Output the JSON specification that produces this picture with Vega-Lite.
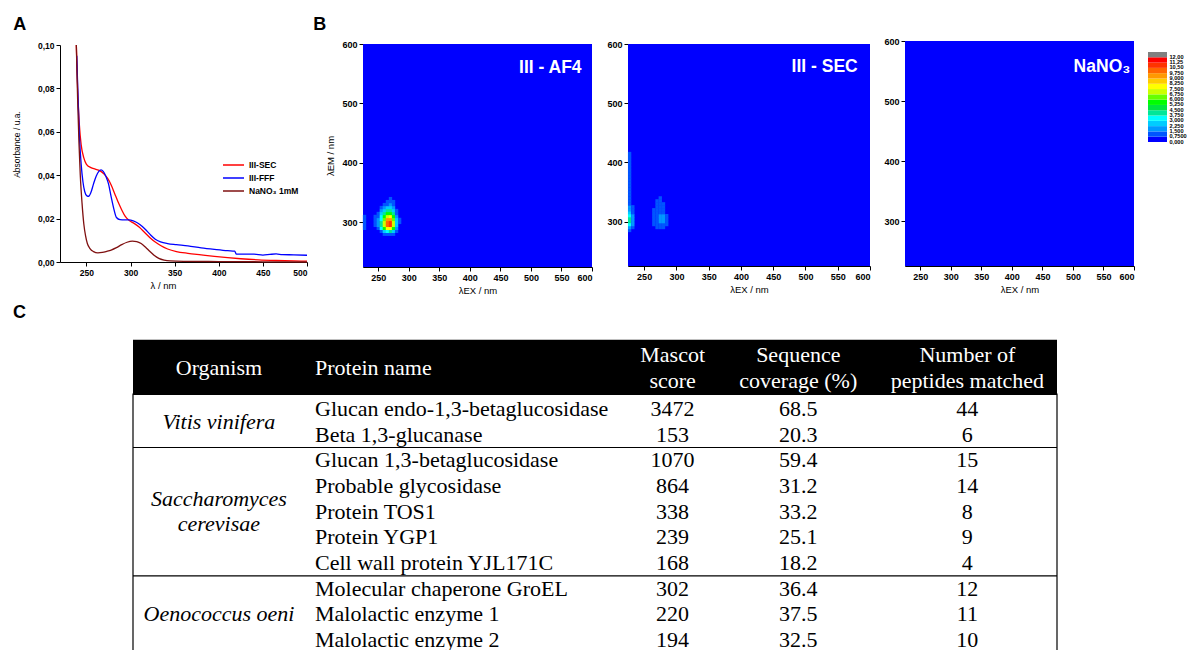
{
 "$schema": "https://vega.github.io/schema/vega-lite/v6.json",
 "width": 1188, "height": 650,
 "autosize": {"type": "none"},
 "padding": 0,
 "background": "white",
 "config": {
  "view": {"stroke": null},
  "font": "Liberation Sans",
  "axis": {"grid": false, "domainColor": "black", "domainWidth": 1, "tickColor": "black", "tickSize": 4, "tickWidth": 1,
   "labelColor": "black", "labelFontWeight": "bold", "labelFontSize": 9, "labelPadding": 2,
   "titleColor": "black", "titleFontWeight": "normal", "titleFontSize": 9.5, "labelFont": "Liberation Sans", "titleFont": "Liberation Sans"}
 },
 "resolve": {"scale": {"x": "independent", "y": "independent", "color": "independent"}, "axis": {"x": "independent", "y": "independent"}, "legend": {"color": "independent"}},
 "datasets": {
  "uv": [
   {"sample":"III-SEC","nm":238.5,"absorbance":0.100},{"sample":"III-SEC","nm":240,"absorbance":0.080},{"sample":"III-SEC","nm":242,"absorbance":0.063},{"sample":"III-SEC","nm":244,"absorbance":0.054},{"sample":"III-SEC","nm":247,"absorbance":0.048},{"sample":"III-SEC","nm":250,"absorbance":0.045},{"sample":"III-SEC","nm":255,"absorbance":0.0435},{"sample":"III-SEC","nm":260,"absorbance":0.0428},{"sample":"III-SEC","nm":265,"absorbance":0.0421},{"sample":"III-SEC","nm":270,"absorbance":0.0405},{"sample":"III-SEC","nm":274,"absorbance":0.0385},{"sample":"III-SEC","nm":278,"absorbance":0.0355},{"sample":"III-SEC","nm":282,"absorbance":0.0315},{"sample":"III-SEC","nm":286,"absorbance":0.0275},{"sample":"III-SEC","nm":290,"absorbance":0.024},{"sample":"III-SEC","nm":294,"absorbance":0.021},{"sample":"III-SEC","nm":299,"absorbance":0.019},{"sample":"III-SEC","nm":304,"absorbance":0.0178},{"sample":"III-SEC","nm":310,"absorbance":0.016},{"sample":"III-SEC","nm":316,"absorbance":0.0136},{"sample":"III-SEC","nm":322,"absorbance":0.0112},{"sample":"III-SEC","nm":328,"absorbance":0.0092},{"sample":"III-SEC","nm":334,"absorbance":0.0076},{"sample":"III-SEC","nm":342,"absorbance":0.006},{"sample":"III-SEC","nm":352,"absorbance":0.0048},{"sample":"III-SEC","nm":365,"absorbance":0.004},{"sample":"III-SEC","nm":380,"absorbance":0.0033},{"sample":"III-SEC","nm":395,"absorbance":0.0026},{"sample":"III-SEC","nm":410,"absorbance":0.002},{"sample":"III-SEC","nm":425,"absorbance":0.0015},{"sample":"III-SEC","nm":445,"absorbance":0.001},{"sample":"III-SEC","nm":465,"absorbance":0.0007},{"sample":"III-SEC","nm":485,"absorbance":0.0005},{"sample":"III-SEC","nm":500,"absorbance":0.0004},
   {"sample":"III-FFF","nm":239,"absorbance":0.095},{"sample":"III-FFF","nm":240.5,"absorbance":0.075},{"sample":"III-FFF","nm":242,"absorbance":0.058},{"sample":"III-FFF","nm":244,"absorbance":0.045},{"sample":"III-FFF","nm":246,"absorbance":0.037},{"sample":"III-FFF","nm":248,"absorbance":0.0325},{"sample":"III-FFF","nm":250.5,"absorbance":0.0305},{"sample":"III-FFF","nm":252.5,"absorbance":0.0303},{"sample":"III-FFF","nm":255,"absorbance":0.032},{"sample":"III-FFF","nm":258,"absorbance":0.036},{"sample":"III-FFF","nm":261,"absorbance":0.0395},{"sample":"III-FFF","nm":264,"absorbance":0.0418},{"sample":"III-FFF","nm":266.5,"absorbance":0.0425},{"sample":"III-FFF","nm":269,"absorbance":0.0418},{"sample":"III-FFF","nm":272,"absorbance":0.0395},{"sample":"III-FFF","nm":275,"absorbance":0.036},{"sample":"III-FFF","nm":278,"absorbance":0.030},{"sample":"III-FFF","nm":281,"absorbance":0.0245},{"sample":"III-FFF","nm":284,"absorbance":0.0205},{"sample":"III-FFF","nm":288,"absorbance":0.0195},{"sample":"III-FFF","nm":293,"absorbance":0.0194},{"sample":"III-FFF","nm":298,"absorbance":0.0194},{"sample":"III-FFF","nm":303,"absorbance":0.019},{"sample":"III-FFF","nm":308,"absorbance":0.018},{"sample":"III-FFF","nm":313,"absorbance":0.0165},{"sample":"III-FFF","nm":318,"absorbance":0.0145},{"sample":"III-FFF","nm":323,"absorbance":0.0123},{"sample":"III-FFF","nm":328,"absorbance":0.0105},{"sample":"III-FFF","nm":334,"absorbance":0.0093},{"sample":"III-FFF","nm":342,"absorbance":0.0085},{"sample":"III-FFF","nm":352,"absorbance":0.008},{"sample":"III-FFF","nm":365,"absorbance":0.0074},{"sample":"III-FFF","nm":380,"absorbance":0.0065},{"sample":"III-FFF","nm":395,"absorbance":0.0058},{"sample":"III-FFF","nm":410,"absorbance":0.0052},{"sample":"III-FFF","nm":418,"absorbance":0.005},{"sample":"III-FFF","nm":420,"absorbance":0.0036},{"sample":"III-FFF","nm":430,"absorbance":0.0036},{"sample":"III-FFF","nm":440,"absorbance":0.0036},{"sample":"III-FFF","nm":450,"absorbance":0.0032},{"sample":"III-FFF","nm":458,"absorbance":0.0035},{"sample":"III-FFF","nm":465,"absorbance":0.0037},{"sample":"III-FFF","nm":472,"absorbance":0.0034},{"sample":"III-FFF","nm":485,"absorbance":0.0033},{"sample":"III-FFF","nm":500,"absorbance":0.0031},
   {"sample":"NaNO₃ 1mM","nm":238.5,"absorbance":0.100},{"sample":"NaNO₃ 1mM","nm":240,"absorbance":0.075},{"sample":"NaNO₃ 1mM","nm":241.5,"absorbance":0.055},{"sample":"NaNO₃ 1mM","nm":243,"absorbance":0.040},{"sample":"NaNO₃ 1mM","nm":245,"absorbance":0.027},{"sample":"NaNO₃ 1mM","nm":247,"absorbance":0.0175},{"sample":"NaNO₃ 1mM","nm":249,"absorbance":0.012},{"sample":"NaNO₃ 1mM","nm":251,"absorbance":0.0085},{"sample":"NaNO₃ 1mM","nm":254,"absorbance":0.0062},{"sample":"NaNO₃ 1mM","nm":258,"absorbance":0.0048},{"sample":"NaNO₃ 1mM","nm":263,"absorbance":0.0042},{"sample":"NaNO₃ 1mM","nm":268,"absorbance":0.0044},{"sample":"NaNO₃ 1mM","nm":273,"absorbance":0.0049},{"sample":"NaNO₃ 1mM","nm":278,"absorbance":0.0055},{"sample":"NaNO₃ 1mM","nm":284,"absorbance":0.0066},{"sample":"NaNO₃ 1mM","nm":290,"absorbance":0.008},{"sample":"NaNO₃ 1mM","nm":296,"absorbance":0.0091},{"sample":"NaNO₃ 1mM","nm":302,"absorbance":0.0096},{"sample":"NaNO₃ 1mM","nm":307,"absorbance":0.0094},{"sample":"NaNO₃ 1mM","nm":312,"absorbance":0.0085},{"sample":"NaNO₃ 1mM","nm":317,"absorbance":0.0068},{"sample":"NaNO₃ 1mM","nm":322,"absorbance":0.0048},{"sample":"NaNO₃ 1mM","nm":327,"absorbance":0.003},{"sample":"NaNO₃ 1mM","nm":332,"absorbance":0.0017},{"sample":"NaNO₃ 1mM","nm":338,"absorbance":0.0009},{"sample":"NaNO₃ 1mM","nm":345,"absorbance":0.0005},{"sample":"NaNO₃ 1mM","nm":360,"absorbance":0.0003},{"sample":"NaNO₃ 1mM","nm":400,"absorbance":0.0002},{"sample":"NaNO₃ 1mM","nm":450,"absorbance":0.0001},{"sample":"NaNO₃ 1mM","nm":500,"absorbance":0.0}
  ],
  "eem": [
   {"sample":"AF4","ex":260,"em":280,"intensity":0.78},{"sample":"AF4","ex":265,"em":280,"intensity":1.07},{"sample":"AF4","ex":270,"em":280,"intensity":1.15},{"sample":"AF4","ex":275,"em":280,"intensity":0.76},
   {"sample":"AF4","ex":255,"em":285,"intensity":1.45},{"sample":"AF4","ex":260,"em":285,"intensity":2.57},{"sample":"AF4","ex":265,"em":285,"intensity":3.56},{"sample":"AF4","ex":270,"em":285,"intensity":3.81},{"sample":"AF4","ex":275,"em":285,"intensity":2.52},{"sample":"AF4","ex":280,"em":285,"intensity":0.92},
   {"sample":"AF4","ex":250,"em":290,"intensity":1.35},{"sample":"AF4","ex":255,"em":290,"intensity":3.08},{"sample":"AF4","ex":260,"em":290,"intensity":5.47},{"sample":"AF4","ex":265,"em":290,"intensity":7.57},{"sample":"AF4","ex":270,"em":290,"intensity":8.11},{"sample":"AF4","ex":275,"em":290,"intensity":5.36},{"sample":"AF4","ex":280,"em":290,"intensity":1.96},
   {"sample":"AF4","ex":245,"em":295,"intensity":0.85},{"sample":"AF4","ex":250,"em":295,"intensity":1.84},{"sample":"AF4","ex":255,"em":295,"intensity":4.2},{"sample":"AF4","ex":260,"em":295,"intensity":7.47},{"sample":"AF4","ex":265,"em":295,"intensity":10.34},{"sample":"AF4","ex":270,"em":295,"intensity":11.07},{"sample":"AF4","ex":275,"em":295,"intensity":7.31},{"sample":"AF4","ex":280,"em":295,"intensity":2.68},
   {"sample":"AF4","ex":245,"em":300,"intensity":0.85},{"sample":"AF4","ex":250,"em":300,"intensity":1.81},{"sample":"AF4","ex":255,"em":300,"intensity":4.13},{"sample":"AF4","ex":260,"em":300,"intensity":7.33},{"sample":"AF4","ex":265,"em":300,"intensity":10.15},{"sample":"AF4","ex":270,"em":300,"intensity":10.86},{"sample":"AF4","ex":275,"em":300,"intensity":7.18},{"sample":"AF4","ex":280,"em":300,"intensity":2.63},{"sample":"AF4","ex":285,"em":300,"intensity":0.8},
   {"sample":"AF4","ex":245,"em":305,"intensity":0.8},{"sample":"AF4","ex":250,"em":305,"intensity":1.62},{"sample":"AF4","ex":255,"em":305,"intensity":3.69},{"sample":"AF4","ex":260,"em":305,"intensity":6.55},{"sample":"AF4","ex":265,"em":305,"intensity":9.07},{"sample":"AF4","ex":270,"em":305,"intensity":9.71},{"sample":"AF4","ex":275,"em":305,"intensity":6.42},{"sample":"AF4","ex":280,"em":305,"intensity":2.35},{"sample":"AF4","ex":285,"em":305,"intensity":0.78},
   {"sample":"AF4","ex":245,"em":310,"intensity":0.78},{"sample":"AF4","ex":250,"em":310,"intensity":1.32},{"sample":"AF4","ex":255,"em":310,"intensity":3.02},{"sample":"AF4","ex":260,"em":310,"intensity":5.37},{"sample":"AF4","ex":265,"em":310,"intensity":7.43},{"sample":"AF4","ex":270,"em":310,"intensity":7.96},{"sample":"AF4","ex":275,"em":310,"intensity":5.26},{"sample":"AF4","ex":280,"em":310,"intensity":1.93},
   {"sample":"AF4","ex":250,"em":315,"intensity":0.99},{"sample":"AF4","ex":255,"em":315,"intensity":2.27},{"sample":"AF4","ex":260,"em":315,"intensity":4.03},{"sample":"AF4","ex":265,"em":315,"intensity":5.58},{"sample":"AF4","ex":270,"em":315,"intensity":5.98},{"sample":"AF4","ex":275,"em":315,"intensity":3.95},{"sample":"AF4","ex":280,"em":315,"intensity":1.45},
   {"sample":"AF4","ex":255,"em":320,"intensity":1.57},{"sample":"AF4","ex":260,"em":320,"intensity":2.79},{"sample":"AF4","ex":265,"em":320,"intensity":3.85},{"sample":"AF4","ex":270,"em":320,"intensity":4.12},{"sample":"AF4","ex":275,"em":320,"intensity":2.73},{"sample":"AF4","ex":280,"em":320,"intensity":1.0},
   {"sample":"AF4","ex":255,"em":325,"intensity":0.99},{"sample":"AF4","ex":260,"em":325,"intensity":1.76},{"sample":"AF4","ex":265,"em":325,"intensity":2.44},{"sample":"AF4","ex":270,"em":325,"intensity":2.61},{"sample":"AF4","ex":275,"em":325,"intensity":1.72},
   {"sample":"AF4","ex":260,"em":330,"intensity":1.02},{"sample":"AF4","ex":265,"em":330,"intensity":1.41},{"sample":"AF4","ex":270,"em":330,"intensity":1.51},{"sample":"AF4","ex":275,"em":330,"intensity":1.0},
   {"sample":"AF4","ex":265,"em":335,"intensity":0.76},{"sample":"AF4","ex":270,"em":335,"intensity":0.8},{"sample":"AF4","ex":275,"em":335,"intensity":0.78},{"sample":"AF4","ex":270,"em":340,"intensity":0.78},
   {"sample":"AF4","ex":227.5,"em":290,"intensity":0.9},{"sample":"AF4","ex":227.5,"em":295,"intensity":1.0},{"sample":"AF4","ex":227.5,"em":300,"intensity":1.0},{"sample":"AF4","ex":227.5,"em":305,"intensity":1.0},{"sample":"AF4","ex":227.5,"em":310,"intensity":0.9},
   {"sample":"SEC","ex":270,"em":290,"intensity":1.0},{"sample":"SEC","ex":275,"em":290,"intensity":1.0},{"sample":"SEC","ex":280,"em":290,"intensity":1.0},
   {"sample":"SEC","ex":265,"em":295,"intensity":1.0},{"sample":"SEC","ex":270,"em":295,"intensity":1.1},{"sample":"SEC","ex":275,"em":295,"intensity":1.3},{"sample":"SEC","ex":280,"em":295,"intensity":1.2},{"sample":"SEC","ex":285,"em":295,"intensity":0.9},
   {"sample":"SEC","ex":265,"em":300,"intensity":1.0},{"sample":"SEC","ex":270,"em":300,"intensity":1.2},{"sample":"SEC","ex":275,"em":300,"intensity":1.8},{"sample":"SEC","ex":280,"em":300,"intensity":1.8},{"sample":"SEC","ex":285,"em":300,"intensity":1.0},
   {"sample":"SEC","ex":265,"em":305,"intensity":1.0},{"sample":"SEC","ex":270,"em":305,"intensity":1.3},{"sample":"SEC","ex":275,"em":305,"intensity":1.9},{"sample":"SEC","ex":280,"em":305,"intensity":1.8},{"sample":"SEC","ex":285,"em":305,"intensity":0.9},
   {"sample":"SEC","ex":265,"em":310,"intensity":1.0},{"sample":"SEC","ex":270,"em":310,"intensity":1.2},{"sample":"SEC","ex":275,"em":310,"intensity":1.7},{"sample":"SEC","ex":280,"em":310,"intensity":1.6},{"sample":"SEC","ex":285,"em":310,"intensity":0.8},
   {"sample":"SEC","ex":265,"em":315,"intensity":0.9},{"sample":"SEC","ex":270,"em":315,"intensity":1.1},{"sample":"SEC","ex":275,"em":315,"intensity":1.2},{"sample":"SEC","ex":280,"em":315,"intensity":1.0},
   {"sample":"SEC","ex":265,"em":320,"intensity":0.8},{"sample":"SEC","ex":270,"em":320,"intensity":1.0},{"sample":"SEC","ex":275,"em":320,"intensity":1.1},{"sample":"SEC","ex":280,"em":320,"intensity":0.9},
   {"sample":"SEC","ex":270,"em":325,"intensity":1.0},{"sample":"SEC","ex":275,"em":325,"intensity":1.0},{"sample":"SEC","ex":280,"em":325,"intensity":0.8},
   {"sample":"SEC","ex":270,"em":330,"intensity":0.9},{"sample":"SEC","ex":275,"em":330,"intensity":1.0},{"sample":"SEC","ex":280,"em":330,"intensity":0.8},
   {"sample":"SEC","ex":270,"em":335,"intensity":0.8},{"sample":"SEC","ex":275,"em":335,"intensity":0.9},{"sample":"SEC","ex":275,"em":340,"intensity":0.8},
   {"sample":"SEC","ex":227.5,"em":285,"intensity":0.9},{"sample":"SEC","ex":227.5,"em":290,"intensity":1.8},{"sample":"SEC","ex":227.5,"em":295,"intensity":3.2},{"sample":"SEC","ex":227.5,"em":300,"intensity":4.0},{"sample":"SEC","ex":227.5,"em":305,"intensity":4.2},{"sample":"SEC","ex":227.5,"em":310,"intensity":3.6},{"sample":"SEC","ex":227.5,"em":315,"intensity":2.6},{"sample":"SEC","ex":227.5,"em":320,"intensity":2.0},{"sample":"SEC","ex":227.5,"em":325,"intensity":1.6},{"sample":"SEC","ex":227.5,"em":330,"intensity":1.4},{"sample":"SEC","ex":227.5,"em":335,"intensity":1.2},{"sample":"SEC","ex":227.5,"em":340,"intensity":1.1},{"sample":"SEC","ex":227.5,"em":345,"intensity":1.0},{"sample":"SEC","ex":227.5,"em":350,"intensity":1.0},{"sample":"SEC","ex":227.5,"em":355,"intensity":1.0},{"sample":"SEC","ex":227.5,"em":360,"intensity":0.9},{"sample":"SEC","ex":227.5,"em":365,"intensity":0.8},{"sample":"SEC","ex":227.5,"em":370,"intensity":0.8},{"sample":"SEC","ex":227.5,"em":375,"intensity":0.8},{"sample":"SEC","ex":227.5,"em":380,"intensity":0.8},{"sample":"SEC","ex":227.5,"em":385,"intensity":0.8},{"sample":"SEC","ex":227.5,"em":390,"intensity":0.8},{"sample":"SEC","ex":227.5,"em":395,"intensity":0.8},{"sample":"SEC","ex":227.5,"em":400,"intensity":0.8},{"sample":"SEC","ex":227.5,"em":405,"intensity":0.8},{"sample":"SEC","ex":227.5,"em":410,"intensity":0.8},{"sample":"SEC","ex":227.5,"em":415,"intensity":0.8},
   {"sample":"SEC","ex":232.5,"em":290,"intensity":1.0},{"sample":"SEC","ex":232.5,"em":295,"intensity":1.6},{"sample":"SEC","ex":232.5,"em":300,"intensity":2.0},{"sample":"SEC","ex":232.5,"em":305,"intensity":2.0},{"sample":"SEC","ex":232.5,"em":310,"intensity":1.7},{"sample":"SEC","ex":232.5,"em":315,"intensity":1.3},{"sample":"SEC","ex":232.5,"em":320,"intensity":1.0},{"sample":"SEC","ex":232.5,"em":325,"intensity":0.8}
  ],
  "levels": [{"lo":0,"hi":0.75},{"lo":0.75,"hi":1.5},{"lo":1.5,"hi":2.25},{"lo":2.25,"hi":3},{"lo":3,"hi":3.75},{"lo":3.75,"hi":4.5},{"lo":4.5,"hi":5.25},{"lo":5.25,"hi":6},{"lo":6,"hi":6.75},{"lo":6.75,"hi":7.5},{"lo":7.5,"hi":8.25},{"lo":8.25,"hi":9},{"lo":9,"hi":9.75},{"lo":9.75,"hi":10.5},{"lo":10.5,"hi":11.25},{"lo":11.25,"hi":12},{"lo":12,"hi":12.75}],
  "table": [
   {"row":0,"organism":"Vitis vinifera","protein":"Glucan endo-1,3-betaglucosidase","mascot":3472,"coverage":68.5,"peptides":44},
   {"row":1,"organism":"Vitis vinifera","protein":"Beta 1,3-glucanase","mascot":153,"coverage":20.3,"peptides":6},
   {"row":2,"organism":"Saccharomyces\ncerevisae","protein":"Glucan 1,3-betaglucosidase","mascot":1070,"coverage":59.4,"peptides":15},
   {"row":3,"organism":"Saccharomyces\ncerevisae","protein":"Probable glycosidase","mascot":864,"coverage":31.2,"peptides":14},
   {"row":4,"organism":"Saccharomyces\ncerevisae","protein":"Protein TOS1","mascot":338,"coverage":33.2,"peptides":8},
   {"row":5,"organism":"Saccharomyces\ncerevisae","protein":"Protein YGP1","mascot":239,"coverage":25.1,"peptides":9},
   {"row":6,"organism":"Saccharomyces\ncerevisae","protein":"Cell wall protein YJL171C","mascot":168,"coverage":18.2,"peptides":4},
   {"row":7,"organism":"Oenococcus oeni","protein":"Molecular chaperone GroEL","mascot":302,"coverage":36.4,"peptides":12},
   {"row":8,"organism":"Oenococcus oeni","protein":"Malolactic enzyme 1","mascot":220,"coverage":37.5,"peptides":11},
   {"row":9,"organism":"Oenococcus oeni","protein":"Malolactic enzyme 2","mascot":194,"coverage":32.5,"peptides":10}
  ],
  "header": [
   {"column":"Organism","label":"Organism"},
   {"column":"Protein name","label":"Protein name"},
   {"column":"Mascot score","label":"Mascot\nscore"},
   {"column":"Sequence coverage (%)","label":"Sequence\ncoverage (%)"},
   {"column":"Number of peptides matched","label":"Number of\npeptides matched"}
  ]
 },
 "layer": [
  {
   "layer": [
    {"data": {"name": "uv"}, "mark": {"type": "line", "strokeWidth": 1.3, "interpolate": "monotone"},
     "encoding": {
      "x": {"field": "nm", "type": "quantitative", "scale": {"domain": [220, 500], "range": [60, 307], "nice": false, "zero": false},
       "axis": {"orient": "bottom", "offset": -388, "values": [250, 300, 350, 400, 450, 500], "title": "λ / nm", "titlePadding": 4, "titleX": 163, "labelFontSize": 8.5}},
      "y": {"field": "absorbance", "type": "quantitative", "scale": {"domain": [0, 0.1], "range": [262, 45], "nice": false, "zero": false},
       "axis": {"orient": "left", "offset": -60, "values": [0, 0.02, 0.04, 0.06, 0.08, 0.1], "labelExpr": "replace(format(datum.value, '.2f'), '.', ',')", "title": "Absorbance / u.a.", "titlePadding": 16, "titleY": 144, "titleFontSize": 8.5, "labelFontSize": 8.5}},
      "color": {"field": "sample", "type": "nominal",
       "scale": {"domain": ["III-SEC", "III-FFF", "NaNO₃ 1mM"], "range": ["#ff0000", "#0000ff", "#7f1010"]},
       "legend": {"orient": "none", "legendX": 225.5, "legendY": 157, "title": null, "symbolType": "M-1.5,0H1.5", "symbolSize": 196, "symbolStrokeWidth": 1.5, "labelFontSize": 8.5, "labelFontWeight": "bold", "labelOffset": 7.5, "rowPadding": 0, "padding": 0, "labelColor": "black"}}
     }},
    {"data": {"values": [{}]}, "mark": {"type": "text", "text": "A", "align": "left", "baseline": "alphabetic", "fontSize": 18, "fontWeight": "bold", "color": "black"},
     "encoding": {"x": {"datum": 167, "type": "quantitative"}, "y": {"datum": 0.1069, "type": "quantitative"}}}
   ]
  },
  {
   "layer": [
    {"data": {"values": [{}]}, "mark": {"type": "rect", "color": "#0000ff"},
     "encoding": {
      "x": {"datum": 225, "type": "quantitative", "scale": {"domain": [225, 600], "range": [363, 592], "nice": false, "zero": false},
       "axis": {"orient": "bottom", "offset": -383, "values": [250, 300, 350, 400, 450, 500, 550, 600], "title": "λEX / nm", "titlePadding": 3}},
      "x2": {"datum": 600},
      "y": {"datum": 225, "type": "quantitative", "scale": {"domain": [225, 600], "range": [267, 44], "nice": false, "zero": false},
       "axis": {"orient": "left", "offset": -363, "values": [300, 400, 500, 600], "title": "λEM / nm", "titlePadding": 6}},
      "y2": {"datum": 600}
     }},
    {"data": {"name": "eem"}, "transform": [{"filter": "datum.sample === 'AF4'"}], "mark": {"type": "square", "size": 11, "opacity": 1, "filled": true},
     "encoding": {"x": {"field": "ex", "type": "quantitative"}, "y": {"field": "em", "type": "quantitative"},
      "color": {"field": "intensity", "type": "quantitative", "legend": null,
       "scale": {"type": "threshold", "domain": [0.75,1.5,2.25,3,3.75,4.5,5.25,6,6.75,7.5,8.25,9,9.75,10.5,11.25,12], "range": ["#0000ff","#0055ff","#0099ff","#00ccff","#00ffff","#00e699","#00e640","#00ff00","#66ff00","#ccff00","#ffff00","#ffcc00","#ff9900","#ff6600","#ff3300","#ff0000","#808080"]}}}},
    {"data": {"values": [{}]}, "mark": {"type": "text", "text": "III - AF4", "align": "right", "baseline": "alphabetic", "color": "white", "fontSize": 17.5, "fontWeight": "bold"},
     "encoding": {"x": {"datum": 583, "type": "quantitative"}, "y": {"datum": 552, "type": "quantitative"}}},
    {"data": {"values": [{}]}, "mark": {"type": "text", "text": "B", "align": "left", "baseline": "alphabetic", "fontSize": 18, "fontWeight": "bold", "color": "black"},
     "encoding": {"x": {"datum": 143.6, "type": "quantitative"}, "y": {"datum": 624, "type": "quantitative"}}}
   ]
  },
  {
   "layer": [
    {"data": {"values": [{}]}, "mark": {"type": "rect", "color": "#0000ff"},
     "encoding": {
      "x": {"datum": 225, "type": "quantitative", "scale": {"domain": [225, 600], "range": [628, 870], "nice": false, "zero": false},
       "axis": {"orient": "bottom", "offset": -384, "values": [250, 300, 350, 400, 450, 500, 550, 600], "title": "λEX / nm", "titlePadding": 3}},
      "x2": {"datum": 600},
      "y": {"datum": 225, "type": "quantitative", "scale": {"domain": [225, 600], "range": [266, 44], "nice": false, "zero": false},
       "axis": {"orient": "left", "offset": -628, "values": [300, 400, 500, 600], "title": null}},
      "y2": {"datum": 600}
     }},
    {"data": {"name": "eem"}, "transform": [{"filter": "datum.sample === 'SEC'"}], "mark": {"type": "square", "size": 11, "opacity": 1, "filled": true},
     "encoding": {"x": {"field": "ex", "type": "quantitative"}, "y": {"field": "em", "type": "quantitative"},
      "color": {"field": "intensity", "type": "quantitative", "legend": null,
       "scale": {"type": "threshold", "domain": [0.75,1.5,2.25,3,3.75,4.5,5.25,6,6.75,7.5,8.25,9,9.75,10.5,11.25,12], "range": ["#0000ff","#0055ff","#0099ff","#00ccff","#00ffff","#00e699","#00e640","#00ff00","#66ff00","#ccff00","#ffff00","#ffcc00","#ff9900","#ff6600","#ff3300","#ff0000","#808080"]}}}},
    {"data": {"values": [{}]}, "mark": {"type": "text", "text": "III - SEC", "align": "right", "baseline": "alphabetic", "color": "white", "fontSize": 17.5, "fontWeight": "bold"},
     "encoding": {"x": {"datum": 581, "type": "quantitative"}, "y": {"datum": 553, "type": "quantitative"}}}
   ]
  },
  {
   "layer": [
    {"data": {"values": [{}]}, "mark": {"type": "rect", "color": "#0000ff"},
     "encoding": {
      "x": {"datum": 225, "type": "quantitative", "scale": {"domain": [225, 600], "range": [905, 1134], "nice": false, "zero": false},
       "axis": {"orient": "bottom", "offset": -384, "values": [250, 300, 350, 400, 450, 500, 550, 600], "title": "λEX / nm", "titlePadding": 3}},
      "x2": {"datum": 600},
      "y": {"datum": 225, "type": "quantitative", "scale": {"domain": [225, 600], "range": [266, 41], "nice": false, "zero": false},
       "axis": {"orient": "left", "offset": -905, "values": [300, 400, 500, 600], "title": null}},
      "y2": {"datum": 600}
     }},
    {"data": {"values": [{}]}, "mark": {"type": "text", "text": "NaNO₃", "align": "right", "baseline": "alphabetic", "color": "white", "fontSize": 17.5, "fontWeight": "bold"},
     "encoding": {"x": {"datum": 594, "type": "quantitative"}, "y": {"datum": 549, "type": "quantitative"}}}
   ]
  },
  {
   "data": {"name": "levels"},
   "layer": [
    {"mark": {"type": "rect"},
     "encoding": {
      "x": {"datum": 0, "type": "quantitative", "scale": {"domain": [0, 1], "range": [1148, 1167], "nice": false, "zero": false}, "axis": null},
      "x2": {"datum": 1},
      "y": {"field": "lo", "type": "quantitative", "scale": {"domain": [0, 12.75], "range": [142, 52], "nice": false, "zero": false},
       "axis": {"orient": "right", "offset": -21, "values": [0,0.75,1.5,2.25,3,3.75,4.5,5.25,6,6.75,7.5,8.25,9,9.75,10.5,11.25,12], "labelExpr": "datum.value == 0 ? '0,000' : replace(format(datum.value, '.4r'), '.', ',')", "ticks": false, "domain": false, "labelFontSize": 5.6, "labelPadding": 2, "title": null, "labelOverlap": false, "labelBound": false, "labelFlush": false, "labelOffset": -1}},
      "y2": {"field": "hi"},
      "color": {"field": "lo", "type": "quantitative", "legend": null,
       "scale": {"type": "threshold", "domain": [0.75,1.5,2.25,3,3.75,4.5,5.25,6,6.75,7.5,8.25,9,9.75,10.5,11.25,12], "range": ["#0000ff","#0055ff","#0099ff","#00ccff","#00ffff","#00e699","#00e640","#00ff00","#66ff00","#ccff00","#ffff00","#ffcc00","#ff9900","#ff6600","#ff3300","#ff0000","#808080"]}}
     }}
   ]
  },
  {
   "layer": [
    {"data": {"values": [{}]}, "mark": {"type": "rect", "color": "black"},
     "encoding": {
      "x": {"datum": 0, "type": "quantitative", "scale": {"domain": [0, 100], "range": [133, 1057], "nice": false, "zero": false}, "axis": null},
      "x2": {"datum": 100},
      "y": {"datum": -2.7, "type": "quantitative", "scale": {"domain": [0, 9], "range": [409, 640], "nice": false, "zero": false}, "axis": null},
      "y2": {"datum": -0.545}
     }},
    {"data": {"values": [{}]}, "mark": {"type": "rule", "color": "black", "strokeWidth": 1.2},
     "encoding": {"x": {"datum": 0, "type": "quantitative"}, "x2": {"datum": 100}, "y": {"datum": 1.5, "type": "quantitative"}}},
    {"data": {"values": [{}]}, "mark": {"type": "rule", "color": "black", "strokeWidth": 1.2},
     "encoding": {"x": {"datum": 0, "type": "quantitative"}, "x2": {"datum": 100}, "y": {"datum": 6.5, "type": "quantitative"}}},
    {"data": {"values": [{}]}, "mark": {"type": "rule", "color": "black", "strokeWidth": 1.2},
     "encoding": {"x": {"datum": 0, "type": "quantitative"}, "y": {"datum": -0.6, "type": "quantitative"}, "y2": {"datum": 9.8}}},
    {"data": {"values": [{}]}, "mark": {"type": "rule", "color": "black", "strokeWidth": 1.2},
     "encoding": {"x": {"datum": 100, "type": "quantitative"}, "y": {"datum": -0.6, "type": "quantitative"}, "y2": {"datum": 9.8}}},
    {"data": {"name": "header"}, "transform": [{"filter": "datum.column === 'Organism'"}],
     "mark": {"type": "text", "font": "Liberation Serif", "fontSize": 22, "color": "white", "align": "center", "baseline": "middle"},
     "encoding": {"x": {"datum": 9.3, "type": "quantitative"}, "y": {"datum": -1.6, "type": "quantitative"}, "text": {"field": "label"}}},
    {"data": {"name": "header"}, "transform": [{"filter": "datum.column === 'Protein name'"}],
     "mark": {"type": "text", "font": "Liberation Serif", "fontSize": 22, "color": "white", "align": "left", "baseline": "middle"},
     "encoding": {"x": {"datum": 19.7, "type": "quantitative"}, "y": {"datum": -1.6, "type": "quantitative"}, "text": {"field": "label"}}},
    {"data": {"name": "header"}, "transform": [{"filter": "datum.column === 'Mascot score'"}],
     "mark": {"type": "text", "font": "Liberation Serif", "fontSize": 22, "color": "white", "align": "center", "baseline": "middle", "lineBreak": "\n", "lineHeight": 26},
     "encoding": {"x": {"datum": 58.4, "type": "quantitative"}, "y": {"datum": -2.1, "type": "quantitative"}, "text": {"field": "label"}}},
    {"data": {"name": "header"}, "transform": [{"filter": "datum.column === 'Sequence coverage (%)'"}],
     "mark": {"type": "text", "font": "Liberation Serif", "fontSize": 22, "color": "white", "align": "center", "baseline": "middle", "lineBreak": "\n", "lineHeight": 26},
     "encoding": {"x": {"datum": 72.0, "type": "quantitative"}, "y": {"datum": -2.1, "type": "quantitative"}, "text": {"field": "label"}}},
    {"data": {"name": "header"}, "transform": [{"filter": "datum.column === 'Number of peptides matched'"}],
     "mark": {"type": "text", "font": "Liberation Serif", "fontSize": 22, "color": "white", "align": "center", "baseline": "middle", "lineBreak": "\n", "lineHeight": 26},
     "encoding": {"x": {"datum": 90.3, "type": "quantitative"}, "y": {"datum": -2.1, "type": "quantitative"}, "text": {"field": "label"}}},
    {"data": {"name": "table"}, "transform": [{"aggregate": [{"op": "mean", "field": "row", "as": "row"}], "groupby": ["organism"]}, {"filter": "indexof(datum.organism, '\\n') < 0"}],
     "mark": {"type": "text", "font": "Liberation Serif", "fontSize": 22, "fontStyle": "italic", "color": "black", "align": "center", "baseline": "middle"},
     "encoding": {"x": {"datum": 9.3, "type": "quantitative"}, "y": {"field": "row", "type": "quantitative"}, "text": {"field": "organism"}}},
    {"data": {"name": "table"}, "transform": [{"aggregate": [{"op": "mean", "field": "row", "as": "row"}], "groupby": ["organism"]}, {"filter": "indexof(datum.organism, '\\n') >= 0"}],
     "mark": {"type": "text", "font": "Liberation Serif", "fontSize": 22, "fontStyle": "italic", "color": "black", "align": "center", "baseline": "middle", "lineBreak": "\n", "lineHeight": 25, "dy": -12.5},
     "encoding": {"x": {"datum": 9.3, "type": "quantitative"}, "y": {"field": "row", "type": "quantitative"}, "text": {"field": "organism"}}},
    {"data": {"name": "table"},
     "mark": {"type": "text", "font": "Liberation Serif", "fontSize": 22, "color": "black", "align": "left", "baseline": "middle"},
     "encoding": {"x": {"datum": 19.7, "type": "quantitative"}, "y": {"field": "row", "type": "quantitative"}, "text": {"field": "protein"}}},
    {"data": {"name": "table"},
     "mark": {"type": "text", "font": "Liberation Serif", "fontSize": 22, "color": "black", "align": "center", "baseline": "middle"},
     "encoding": {"x": {"datum": 58.4, "type": "quantitative"}, "y": {"field": "row", "type": "quantitative"}, "text": {"field": "mascot", "type": "quantitative", "format": "d"}}},
    {"data": {"name": "table"},
     "mark": {"type": "text", "font": "Liberation Serif", "fontSize": 22, "color": "black", "align": "center", "baseline": "middle"},
     "encoding": {"x": {"datum": 72.0, "type": "quantitative"}, "y": {"field": "row", "type": "quantitative"}, "text": {"field": "coverage", "type": "quantitative", "format": ".1f"}}},
    {"data": {"name": "table"},
     "mark": {"type": "text", "font": "Liberation Serif", "fontSize": 22, "color": "black", "align": "center", "baseline": "middle"},
     "encoding": {"x": {"datum": 90.3, "type": "quantitative"}, "y": {"field": "row", "type": "quantitative"}, "text": {"field": "peptides", "type": "quantitative", "format": "d"}}},
    {"data": {"values": [{}]}, "mark": {"type": "text", "text": "C", "align": "left", "baseline": "alphabetic", "fontSize": 18, "fontWeight": "bold", "color": "black"},
     "encoding": {"x": {"datum": -13.0, "type": "quantitative"}, "y": {"datum": -3.545, "type": "quantitative"}}}
   ]
  }
 ]
}
